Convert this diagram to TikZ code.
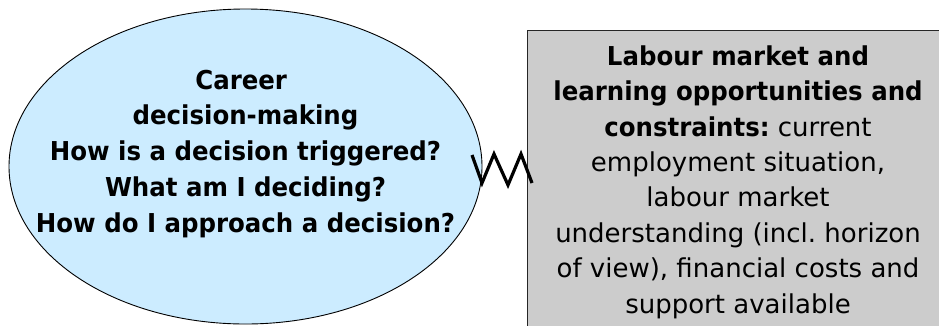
\documentclass[tikz,border=0pt]{standalone}
\usepackage{fontspec}
\setmainfont{DejaVu Sans}[BoldFeatures={FakeStretch=0.94}]
\usetikzlibrary{shapes.geometric}
\frenchspacing
\definecolor{ellblue}{RGB}{204,236,255}
\definecolor{boxgray}{RGB}{204,204,204}
\tikzset{
  ellshape/.style={ellipse, draw=black, line width=0.9pt, fill=ellblue, inner sep=0pt},
  boxshape/.style={rectangle, draw=black!85, line width=1.3pt, fill=boxgray, inner sep=0pt},
  txt/.style={anchor=base, align=center, inner sep=0pt},
  zig/.style={draw=black, line width=3.2pt, line join=miter, line cap=butt}
}
\begin{document}
\begin{tikzpicture}[x=1pt,y=-1pt]
\useasboundingbox (0,0) rectangle (939,325);
\clip (0,0) rectangle (939,325);
\node[ellshape, minimum width=473pt, minimum height=315pt] (ell) at (245.5,166.5) {};
\node[boxshape, minimum width=424pt, minimum height=310pt, anchor=north west] (box) at (527,30) {};
\node[txt, font=\bfseries\fontsize{26}{35.75}\selectfont] (elltext) at (245.5,232)
  {Career\hspace*{0.33em}\\decision-making\\How is a decision triggered?\\What am I deciding?\\How do I approach a decision?};
\node[txt, font=\fontsize{26}{35.4}\selectfont] (boxtext) at (738,313)
  {\textbf{Labour market and}\\\textbf{learning opportunities and}\\\textbf{constraints:} current\\employment situation,\\labour market\\understanding (incl.\ horizon\\of view), financial costs and\\support available};
\coordinate (z1) at (472,155);
\coordinate (z2) at (482,183);
\coordinate (z3) at (494,154);
\coordinate (z4) at (508,185);
\coordinate (z5) at (521,154);
\coordinate (z6) at (532,183);
\draw[zig] (z1) -- (z2) -- (z3) -- (z4) -- (z5) -- (z6);
\end{tikzpicture}
\end{document}
